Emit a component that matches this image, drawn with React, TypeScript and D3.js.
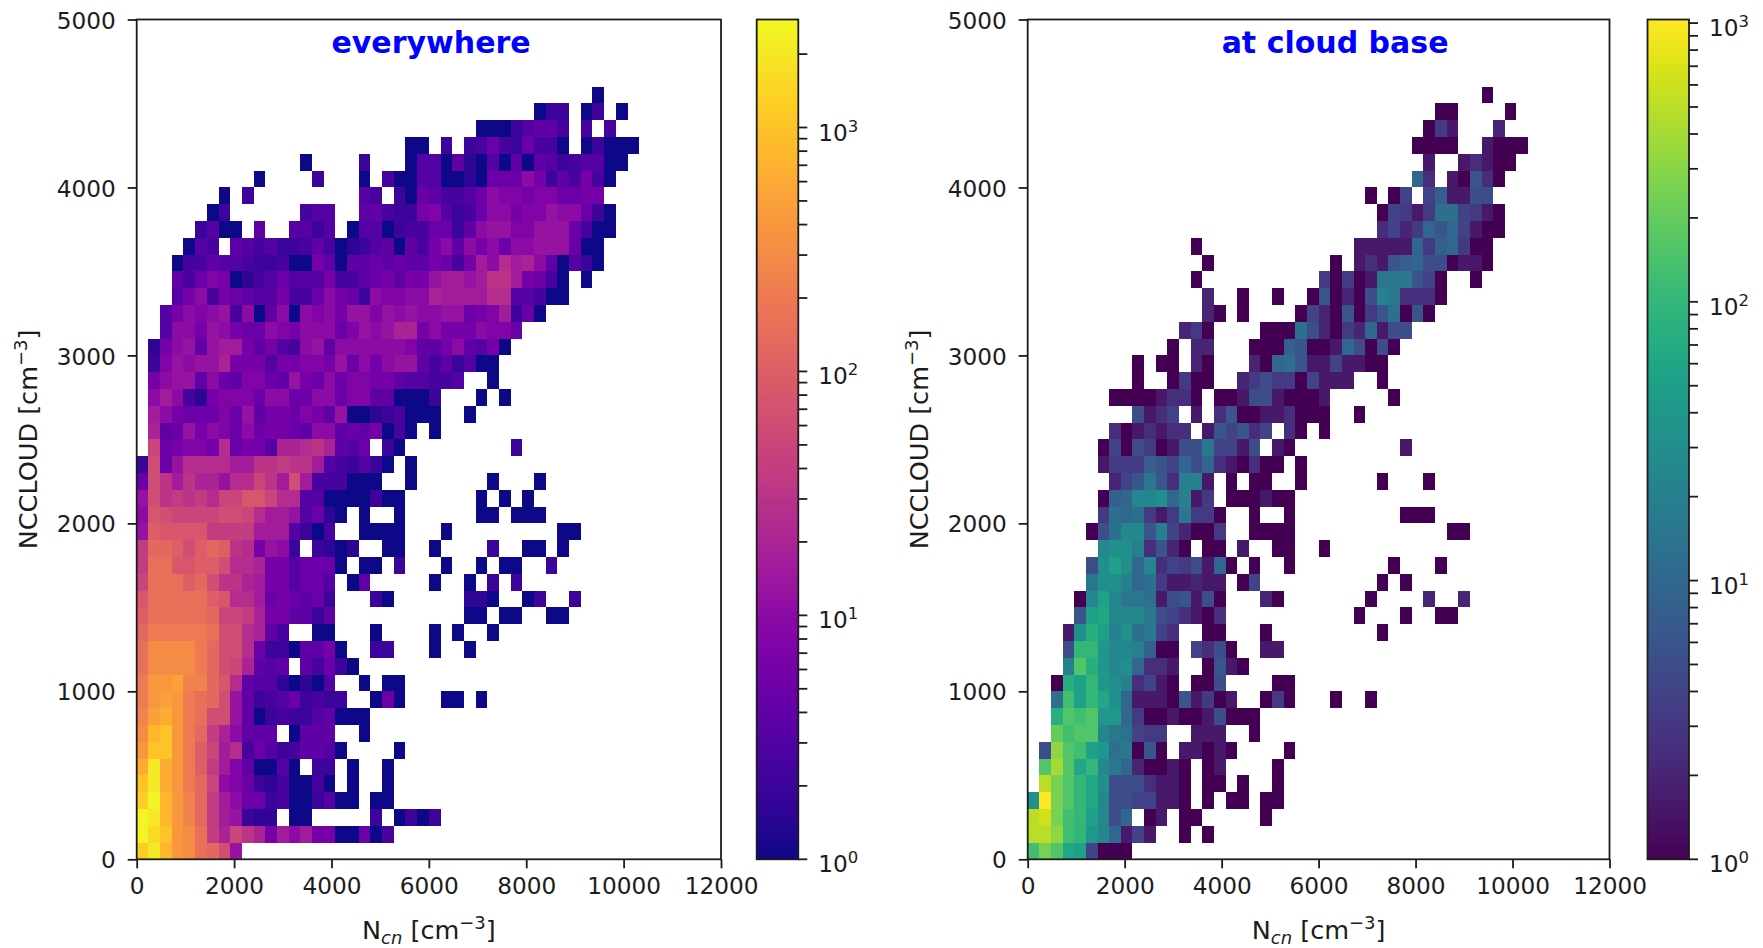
import * as d3 from 'd3';
import React, { useEffect, useRef } from 'react';

const gap = (n: number) => '.'.repeat(n);

// each char is a bin count as 10*log10(count) in base 36, '.' is an empty bin
// rows go from the bottom (NCCLOUD 0-100) upwards, columns are 240 wide
const everywhereRows = [
  'vxtqpmlib',
  'ywuqpmgdhfd8cac8800704',
  'yxtqolgcb322.00.....3.0303',
  'vytqolgca7734003500.00',
  'uxsqnlha973240040.0..0',
  'sxsqnkgc960050.33.0..0',
  'quuqnkhce475346650....0',
  'ptuqnlgda666.0666..0',
  'orsqnmiib60343356000',
  'nqrqnmlib634573433..070...00.0',
  'nqqroolje65520205..0.00',
  'mppppnlihd656.64730',
  'mppppnliie73306680..33...0..0',
  'lnnnnnmiied64..00...0....0.0..0',
  'kmmmmmlhhgd886636...........00.00..00',
  'jmmmmmkjeec787673...30......220..03..3',
  'hmmmkliffdc885775.06.....0..0.3.3',
  'gmmjjkkieed8857770.00.3...0..0.00..3',
  'gllkiklkfe8ba3.3202..00..0....3..00.0',
  'bkjjjjggggccc5304..0000...0.........00',
  'ajihhhhiiheccb5720.0..0......00.000',
  'bifgfgehhjjhee550000300......0.0.0',
  '7ifcfddbeehfcic444000..0......0...0',
  '3i7beeeeccffgffc543530.0',
  '.h78998e7885ddefd657.30.........3',
  '.d67b8a97a78876aa6768040.0',
  '.ca877797b6887986b00234000..0',
  '.aca4289997aa77aa799660003...0.0',
  '.8abb6a769976b87a79988655445..0',
  '.39babbd888588998b7a8abb6463500',
  '.28ab6bcc86854ab6aaaaaa9668a6580',
  '..5aa8ba877a98aaa79babdd8a888a997',
  '..58a9ab4a06a0a9a8bb9babaabb789c370',
  '...58a4876558447a873a99aadccccee55400',
  '...6479802457555844678688bccbcffc8740.0',
  '...04465543340086066767668748caecda60530',
  '....054.654533464023560648a6a8a7aabbb700',
  '.....3500.6..5535.05503447736abb99bbb7400',
  '......03......455..66433895347aa899baa730',
  '.......0.3.........54.30764457a998997788',
  gap(10) + '0....3...0.400550020777a8364840',
  gap(14) + '0....3...0550620506065345500',
  gap(23) + '00.3.347437440.03000',
  gap(29) + '00035664.4.4',
  gap(34) + '033.03.0',
  gap(39) + '0',
];

const cloudBaseRows = [
  'lomih6000',
  'rrplkgea262..0.0',
  'rsolkhe7a.02.00.....0',
  'fuomkie7766220.0.00.00',
  '.romkif7774220.00.0..0',
  '.mqmikeca30020.02....0',
  '.7pmlhgbc080.22020....0',
  '..nlmmecb655..222..0',
  '..jmlmgga50020027000',
  '..blhkifa222082502..050...0..0',
  '..0jhkgfd4620.007....00',
  '...dmjgefa442..0820',
  '...7kkgeed900.6470..22',
  '...2fjhdfbc64..00...0' + gap(9) + '0',
  '....8hieeec764204...........0...0..00',
  '....0ehecc' + 'b278270' + '...30' + gap(7) + '0' + gap(4) + '3..3',
  '.....cffdab' + '522322' + '.06' + gap(10) + '0.0',
  '.....7fhfae46572a0.0..0' + gap(8) + '0...0',
  '......effd4830.00.2..00..0',
  '.....07bee8d63005..0000' + gap(13) + '00',
  '......5bab525c550..0..0' + gap(9) + '000',
  '......09aeefad25.000200',
  '.......368c84dd2.0.00..0......0...0',
  '......2555986a7a420400.0',
  '......060750277c6627.20' + gap(9) + '2',
  '.......4024244.286846.40.0',
  '.........7246.2.4800224000..0',
  '.......00002440.0027720002.....0',
  '.........0..0500..3575506222..0',
  '.........0.00.30...30ab82262200',
  '............0.33...00098002a7070',
  gap(13) + '350....000b73053a277',
  gap(15) + '30.0....06308058b080',
  gap(15) + '3..0..0..080307dc4440',
  gap(14) + '0' + gap(10) + '50502ccc860..0',
  gap(15) + '0' + gap(10) + '0.24289a770220',
  gap(14) + '0' + gap(13) + '22222a59a500',
  gap(30) + '4635a8a6200',
  gap(30) + '06525bb6520',
  gap(29) + '0.06.692277',
  gap(33) + 'a4.20840',
  gap(34) + '2..24200',
  gap(33) + '0000..2000',
  gap(34) + '052...3',
  gap(35) + '00....0',
  gap(39) + '0',
];

const xTicks = [0, 2000, 4000, 6000, 8000, 10000, 12000];
const yTicks = [0, 1000, 2000, 3000, 4000, 5000];
const binWidth = 240;
const binHeight = 100;
const everywhereMax = 2772;
const cloudBaseMax = 1030;

const FONT = '"DejaVu Sans", sans-serif';
const INK = '#1c1c1c';

function cbarTicks(vmax: number) {
  const out: number[] = [];
  for (let p = 1; p <= vmax; p *= 10) {
    for (let m = 1; m < 10; m++) {
      if (p * m <= vmax) out.push(p * m);
    }
  }
  return out;
}

function drawPanel(svg, o) {
  const top = 19.5;
  const bottom = 859.3;
  const x = d3.scaleLinear().domain([0, 12000]).range([o.left, o.right]);
  const y = d3.scaleLinear().domain([0, 5000]).range([bottom, top]);
  const color = d3.scaleSequentialLog(o.ramp).domain([1, o.vmax]);

  const cells = svg.append('g').attr('shape-rendering', 'crispEdges');
  o.rows.forEach((row, r) => {
    row.split('').forEach((ch, c) => {
      if (ch === '.') return;
      const count = Math.pow(10, parseInt(ch, 36) / 10);
      cells
        .append('rect')
        .attr('x', x(c * binWidth))
        .attr('y', y((r + 1) * binHeight))
        .attr('width', x((c + 1) * binWidth) - x(c * binWidth))
        .attr('height', y(r * binHeight) - y((r + 1) * binHeight))
        .attr('fill', color(count));
    });
  });

  const xAxis = svg
    .append('g')
    .attr('transform', `translate(0,${bottom})`)
    .call(d3.axisBottom(x).tickValues(xTicks).tickSize(9).tickSizeOuter(0).tickPadding(9).tickFormat(String));
  const yAxis = svg
    .append('g')
    .attr('transform', `translate(${o.left},0)`)
    .call(d3.axisLeft(y).tickValues(yTicks).tickSize(9).tickSizeOuter(0).tickPadding(12).tickFormat(String));
  [xAxis, yAxis].forEach((a) => {
    a.select('.domain').remove();
    a.selectAll('line').attr('stroke', INK).attr('stroke-width', 1.8);
    a.selectAll('text').attr('fill', INK).style('font-family', FONT).style('font-size', '23.2px');
  });
  yAxis.selectAll('text').attr('dy', '0.37em');

  svg
    .append('rect')
    .attr('x', o.left)
    .attr('y', top)
    .attr('width', o.right - o.left)
    .attr('height', bottom - top)
    .attr('fill', 'none')
    .attr('stroke', INK)
    .attr('stroke-width', 1.8);

  // title sits in data coordinates
  svg
    .append('text')
    .attr('x', x(4000))
    .attr('y', y(4800))
    .attr('fill', '#0000ff')
    .style('font-family', FONT)
    .style('font-size', '30px')
    .style('font-weight', 'bold')
    .text(o.title);

  // x label
  const xl = svg
    .append('text')
    .attr('x', (o.left + o.right) / 2)
    .attr('y', 939)
    .attr('text-anchor', 'middle')
    .attr('fill', INK)
    .style('font-family', FONT)
    .style('font-size', '25.5px');
  xl.append('tspan').text('N');
  xl.append('tspan').attr('dy', 5).style('font-size', '18px').style('font-style', 'italic').text('cn');
  xl.append('tspan').attr('dy', -5).text(' [cm');
  xl.append('tspan').attr('dy', -10).style('font-size', '18px').text('\u22123');
  xl.append('tspan').attr('dy', 10).text(']');

  // y label
  const yl = svg
    .append('text')
    .attr('transform', `translate(${o.left - 100},${(top + bottom) / 2}) rotate(-90)`)
    .attr('text-anchor', 'middle')
    .attr('fill', INK)
    .style('font-family', FONT)
    .style('font-size', '25.5px');
  yl.append('tspan').text('NCCLOUD [cm');
  yl.append('tspan').attr('dy', -10).style('font-size', '18px').text('\u22123');
  yl.append('tspan').attr('dy', 10).text(']');

  // colorbar
  const defs = svg.append('defs');
  const grad = defs
    .append('linearGradient')
    .attr('id', o.id)
    .attr('x1', 0)
    .attr('x2', 0)
    .attr('y1', 1)
    .attr('y2', 0);
  d3.range(0, 41).forEach((i) => {
    grad
      .append('stop')
      .attr('offset', i / 40)
      .attr('stop-color', o.ramp(i / 40));
  });
  const cy = d3.scaleLog().domain([1, o.vmax]).range([bottom, top]);
  svg
    .append('rect')
    .attr('x', o.cbLeft)
    .attr('y', top)
    .attr('width', o.cbRight - o.cbLeft)
    .attr('height', bottom - top)
    .attr('fill', `url(#${o.id})`)
    .attr('stroke', INK)
    .attr('stroke-width', 1.8);
  cbarTicks(o.vmax).forEach((v) => {
    svg
      .append('line')
      .attr('x1', o.cbRight)
      .attr('x2', o.cbRight + 9)
      .attr('y1', cy(v))
      .attr('y2', cy(v))
      .attr('stroke', INK)
      .attr('stroke-width', 1.8);
    const p = Math.log10(v);
    if (Math.abs(p - Math.round(p)) > 1e-9) return;
    const t = svg
      .append('text')
      .attr('x', o.cbRight + 20)
      .attr('y', cy(v) + 13)
      .attr('fill', INK)
      .style('font-family', FONT)
      .style('font-size', '23.2px');
    t.append('tspan').text('10');
    t.append('tspan').attr('dy', -9).style('font-size', '16.5px').text(String(Math.round(p)));
  });
}

export default function App() {
  const ref = useRef<SVGSVGElement>(null);

  useEffect(() => {
    const svg = d3.select(ref.current);
    svg.selectAll('*').remove();
    drawPanel(svg, {
      id: 'cbar-left',
      rows: everywhereRows,
      ramp: d3.interpolatePlasma,
      vmax: everywhereMax,
      title: 'everywhere',
      left: 136.7,
      right: 721,
      cbLeft: 756.7,
      cbRight: 798.3,
    });
    drawPanel(svg, {
      id: 'cbar-right',
      rows: cloudBaseRows,
      ramp: d3.interpolateViridis,
      vmax: cloudBaseMax,
      title: 'at cloud base',
      left: 1027.7,
      right: 1609.5,
      cbLeft: 1647.5,
      cbRight: 1689,
    });
  }, []);

  return (
    <svg
      ref={ref}
      width={1763}
      height={948}
      style={{ position: 'absolute', left: 0, top: 0, background: '#fff' }}
    />
  );
}
